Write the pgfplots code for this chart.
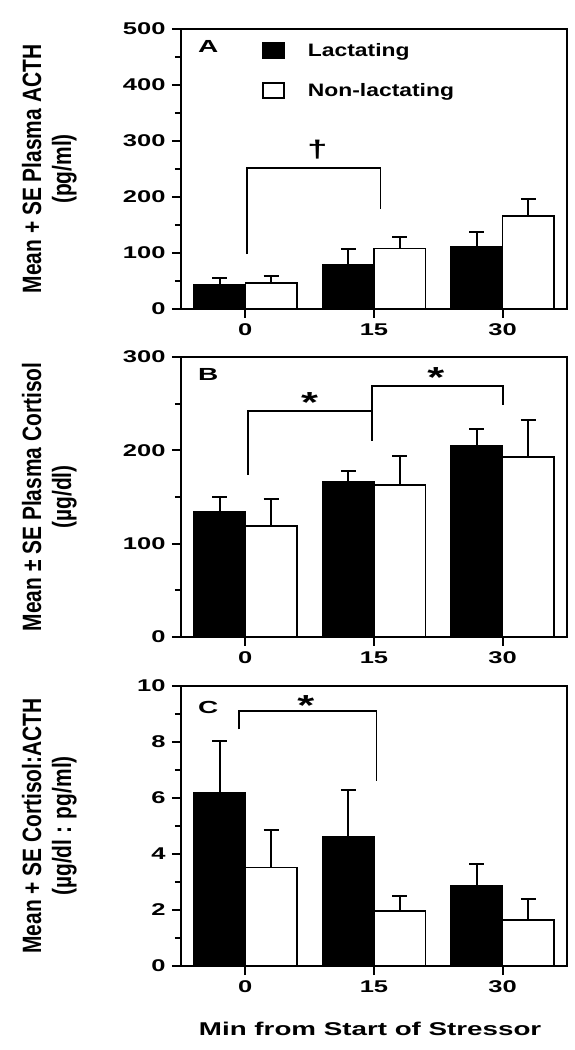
\documentclass[border=0pt]{standalone}
\usepackage{fontspec}
\usepackage{pgfplots}
\pgfplotsset{compat=1.18}
\setmainfont{Liberation Sans Bold}
\newfontfamily\tickf{Liberation Sans Bold}[FakeStretch=1.5]
\newfontfamily\lblf{Liberation Sans Bold}[FakeStretch=1.6]
\newfontfamily\legf{Liberation Sans Bold}[FakeStretch=1.27]
\newfontfamily\xlf{Liberation Sans Bold}[FakeStretch=1.5]
\newfontfamily\ylf{Liberation Sans Bold}[FakeStretch=0.79]

\pgfplotsset{
  panel/.style={
    scale only axis, width=386bp, height=280bp,
    xmin=-0.5, xmax=2.5, xtick={0,1,2}, xticklabels={0,15,30},
    axis line style={line width=2.5bp},
    tick style={line width=2bp, black},
    tick align=outside, xtick pos=bottom, ytick pos=left,
    major tick length=9bp, minor tick length=6bp,
    minor y tick num=1,
    ticklabel style={font=\tickf\fontsize{17bp}{20bp}\selectfont},
    yticklabel style={xshift=-3bp},
    xticklabel style={yshift=-2bp},
    /pgf/number format/assume math mode=true,
    ylabel style={at={(axis description cs:-0.341,0.5)}, anchor=center, align=center,
      font=\ylf\fontsize{26.5bp}{30bp}\selectfont},
    clip=false,
  },
  lac/.style={ybar, bar width=0.4, bar shift=0pt, fill=black, draw=black, line width=1.5bp,
    legend image code/.code={\draw[fill=black, draw=black, line width=1.5bp] (0bp,-7.5bp) rectangle (21bp,7.5bp); \path[draw=none, fill=none] (0bp,-20bp) rectangle (45bp,20bp);},
    error bars/.cd, y dir=plus, y explicit,
    error bar style={line width=2bp, black},
    error mark options={rotate=90, line width=2bp, mark size=7.5bp, black}},
  non/.style={ybar, bar width=0.4, bar shift=0pt, fill=white, draw=black, line width=1.5bp,
    legend image code/.code={\draw[fill=white, draw=black, line width=1.5bp] (0bp,-7.5bp) rectangle (21bp,7.5bp); \path[draw=none, fill=none] (0bp,-20bp) rectangle (45bp,20bp);},
    error bars/.cd, y dir=plus, y explicit,
    error bar style={line width=2bp, black},
    error mark options={rotate=90, line width=2bp, mark size=7.5bp, black}},
  brk/.style={black, line width=1.8bp, mark=none, forget plot},
}
\tikzset{plab/.style={anchor=west, inner sep=0pt, font=\lblf\fontsize{17.5bp}{20bp}\selectfont}}
\newcommand{\starsym}{{\tickf\fontsize{29bp}{29bp}\selectfont *}}

\begin{document}
\begin{tikzpicture}
\useasboundingbox (0,0) rectangle (575bp,1050bp);

% Panel A
\begin{axis}[panel, at={(181bp,741bp)}, anchor=south west,
  ymin=0, ymax=500, ytick={0,100,200,300,400,500},
  ylabel={Mean + SE Plasma ACTH\\(pg/ml)},
  legend cell align=left,
  legend style={at={(axis description cs:0.2098,0.995)}, anchor=north west, draw=none, fill=none,
    inner sep=0pt, column sep=0pt, row sep=0pt, nodes={inner sep=0pt},
    font=\legf\fontsize{18bp}{21bp}\selectfont}]
\addplot[lac] coordinates {(-0.2,43) +- (0,13) (0.8,79) +- (0,29) (1.8,111) +- (0,26)};
\addlegendentry{Lactating}
\addplot[non] coordinates {(0.2,46) +- (0,13) (1.2,108) +- (0,21) (2.2,166) +- (0,30)};
\addlegendentry{Non-lactating}
\addplot[brk] coordinates {(0.01,98) (0.01,252) (1.05,252) (1.05,178)};
\node[plab] at (axis description cs:0.044,0.939) {A};
\node[anchor=north, inner sep=0pt, font=\tickf\fontsize{24bp}{24bp}\selectfont] at (axis cs:0.56,302) {†};
\end{axis}

% Panel B
\begin{axis}[panel, at={(181bp,413bp)}, anchor=south west,
  ymin=0, ymax=300, ytick={0,100,200,300},
  ylabel={Mean ± SE Plasma Cortisol\\(µg/dl)}]
\addplot[lac] coordinates {(-0.2,134) +- (0,16) (0.8,166) +- (0,12) (1.8,205) +- (0,18)};
\addplot[non] coordinates {(0.2,119) +- (0,29) (1.2,163) +- (0,31) (2.2,193) +- (0,40)};
\addplot[brk] coordinates {(0.02,174) (0.02,242) (0.985,242) (0.985,210)};
\addplot[brk] coordinates {(0.985,242) (0.985,269) (2.0,269) (2.0,249)};
\node[plab] at (axis description cs:0.044,0.939) {B};
\node[anchor=north, inner sep=0pt] at (axis cs:0.5,262) {\starsym};
\node[anchor=north, inner sep=0pt] at (axis cs:1.48,289) {\starsym};
\end{axis}

% Panel C
\begin{axis}[panel, at={(181bp,84bp)}, anchor=south west,
  ymin=0, ymax=10, ytick={0,2,4,6,8,10},
  ylabel={Mean + SE Cortisol:ACTH\\(µg/dl : pg/ml)},
  xlabel={Min from Start of Stressor},
  xlabel style={at={(axis description cs:0.49,-0.186)}, anchor=north,
    font=\xlf\fontsize{18.5bp}{22bp}\selectfont}]
\addplot[lac] coordinates {(-0.2,6.17) +- (0,1.85) (0.8,4.61) +- (0,1.67) (1.8,2.85) +- (0,0.8)};
\addplot[non] coordinates {(0.2,3.52) +- (0,1.34) (1.2,1.97) +- (0,0.53) (2.2,1.65) +- (0,0.75)};
\addplot[brk] coordinates {(-0.05,8.45) (-0.05,9.11) (1.02,9.11) (1.02,6.62)};
\node[plab] at (axis description cs:0.044,0.925) {C};
\node[anchor=north, inner sep=0pt] at (axis cs:0.47,9.68) {\starsym};
\end{axis}
\end{tikzpicture}
\end{document}
